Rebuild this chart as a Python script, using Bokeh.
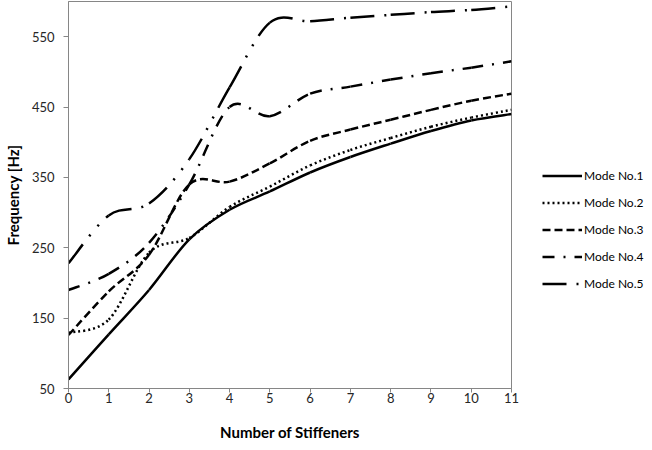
from bokeh.plotting import figure
from bokeh.models import Legend, LegendItem, FixedTicker, Range1d
from bokeh.embed import file_html
from bokeh.resources import INLINE

# ---- data ----
stiffeners = [0, 1, 2, 3, 4, 5, 6, 7, 8, 9, 10, 11]
mode1 = [63, 127, 190, 262, 304, 330, 357, 379, 398, 416, 431, 440]
mode2 = [129, 148, 243, 264, 308, 337, 367, 389, 406, 422, 435, 446]
mode3 = [126, 188, 240, 340, 344, 370, 402, 418, 432, 446, 459, 469]
mode4 = [190, 213, 257, 340, 450, 437, 469, 479, 489, 498, 506, 515]
mode5 = [228, 296, 313, 376, 478, 570, 572, 577, 581, 585, 588, 593]
labels = ["Mode No.1", "Mode No.2", "Mode No.3", "Mode No.4", "Mode No.5"]
y_ticks = [50, 150, 250, 350, 450, 550]

series = [mode1, mode2, mode3, mode4, mode5]
dashes = ["solid", "2 3", "8 4", "12 9 2 9", "24 10 2 11 2 10"]

FONT = "Lato"
GRAY = "#868686"


def smooth_segments(xs, ys, t=1.0 / 6.0):
    """Bezier control points of an Excel-style smoothed line through the data."""
    n = len(xs)
    out = dict(x0=[], y0=[], x1=[], y1=[], cx0=[], cy0=[], cx1=[], cy1=[])
    for i in range(n - 1):
        ip = max(i - 1, 0)
        inn = min(i + 2, n - 1)
        out["x0"].append(xs[i]); out["y0"].append(ys[i])
        out["x1"].append(xs[i + 1]); out["y1"].append(ys[i + 1])
        out["cx0"].append(xs[i] + (xs[i + 1] - xs[ip]) * t)
        out["cy0"].append(ys[i] + (ys[i + 1] - ys[ip]) * t)
        out["cx1"].append(xs[i + 1] - (xs[inn] - xs[i]) * t)
        out["cy1"].append(ys[i + 1] - (ys[inn] - ys[i]) * t)
    return out


p = figure(frame_width=443, frame_height=387, output_backend="svg",
           toolbar_location=None,
           x_range=Range1d(0, 11), y_range=Range1d(50, 600),
           min_border_left=61, min_border_right=132,
           min_border_top=1, min_border_bottom=46)

p.grid.visible = False
p.outline_line_color = GRAY
p.outline_line_width = 1
p.background_fill_color = "white"
p.border_fill_color = "white"

p.xaxis.ticker = FixedTicker(ticks=stiffeners)
p.yaxis.ticker = FixedTicker(ticks=y_ticks)
for ax in (p.xaxis[0], p.yaxis[0]):
    ax.axis_line_color = GRAY
    ax.major_tick_line_color = GRAY
    ax.major_tick_in = 0
    ax.minor_tick_line_color = None
    ax.major_label_text_font = FONT
    ax.major_label_text_font_size = "13px"
    ax.major_label_text_color = "#262626"
    ax.axis_label_text_font = FONT
    ax.axis_label_text_font_size = "15px"
    ax.axis_label_text_font_style = "bold"
    ax.axis_label_text_color = "black"

p.xaxis.axis_label = "Number of Stiffeners"
p.yaxis.axis_label = "Frequency [Hz]"
p.xaxis.major_tick_out = 4
p.xaxis.major_label_standoff = 0
p.xaxis.axis_label_standoff = 17
p.yaxis.major_tick_out = 5
p.yaxis.major_label_standoff = 9
p.yaxis.axis_label_standoff = 7

items = []
for lab, ys, dash in zip(labels, series, dashes):
    seg = smooth_segments(stiffeners, ys)
    r = p.bezier(x0=seg["x0"], y0=seg["y0"], x1=seg["x1"], y1=seg["y1"],
                 cx0=seg["cx0"], cy0=seg["cy0"], cx1=seg["cx1"], cy1=seg["cy1"],
                 line_color="black", line_width=2.5, line_dash=dash)
    items.append(LegendItem(label=lab, renderers=[r]))

legend = Legend(items=items, location=(31, 94), orientation="vertical",
                glyph_width=40, glyph_height=21, label_height=21, spacing=6,
                padding=0, margin=0, label_standoff=2,
                label_text_font=FONT, label_text_font_size="12px",
                label_text_color="black",
                border_line_color=None, background_fill_alpha=0)
p.add_layout(legend, "right")

open("out.html", "w").write(file_html(p, INLINE))
